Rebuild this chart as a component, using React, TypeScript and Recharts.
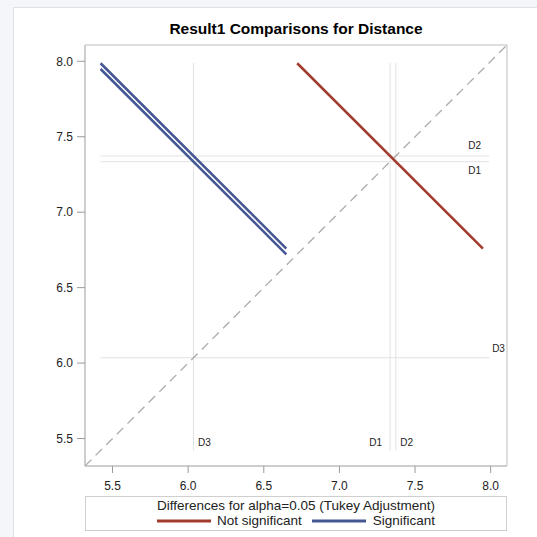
import React from "react";
import {
  ComposedChart,
  Line,
  XAxis,
  YAxis,
  ReferenceLine,
  ReferenceArea,
} from "recharts";

const FONT = '"Liberation Sans", Arial, sans-serif';
const RED = "#a23a2e";
const BLUE = "#445694";
const REF_GRAY = "#e2e2e2";
const FRAME = "#bdbdbd";
const TEXT = "#222";

// group means (x and y axes share the same levels)
const LEVELS = ["D1", "D2", "D3"];
const LEVEL_MEANS = [7.335, 7.373, 6.035];
// where each level's reference-line label sits
const H_LABEL_POS = ["below", "above", "end"];
const V_LABEL_POS = ["left", "right", "right"];

const AXIS_TICKS = [5.5, 6.0, 6.5, 7.0, 7.5, 8.0];
const AXIS_DOMAIN: [number, number] = [5.318, 8.108];
const REF_SPAN = [5.42, 7.99];

// difference segments, endpoints in data units
const NOT_SIG_D1_D2 = [
  { x: 6.721, y: 7.987 },
  { x: 7.949, y: 6.759 },
];
const SIG_D3_D2 = [
  { x: 5.421, y: 7.987 },
  { x: 6.649, y: 6.759 },
];
const SIG_D3_D1 = [
  { x: 5.421, y: 7.949 },
  { x: 6.649, y: 6.721 },
];

const fmt = (v: number) => v.toFixed(1);

function hLabel(text: string, pos: string) {
  return (props: any) => {
    const vb = props.viewBox;
    const right = vb.x + vb.width;
    let x = right - 8;
    let y = vb.y - 6.5;
    let anchor = "end";
    if (pos === "below") y = vb.y + 12.5;
    if (pos === "end") {
      x = right + 3;
      y = vb.y - 6;
      anchor = "start";
    }
    return (
      <text x={x} y={y} textAnchor={anchor} fontSize={10} fontFamily={FONT} fill={TEXT}>
        {text}
      </text>
    );
  };
}

function vLabel(text: string, pos: string) {
  return (props: any) => {
    const vb = props.viewBox;
    const bottom = vb.y + vb.height;
    const left = pos === "left";
    return (
      <text
        x={left ? vb.x - 8 : vb.x + 4.5}
        y={bottom - 4.5}
        textAnchor={left ? "end" : "start"}
        fontSize={10}
        fontFamily={FONT}
        fill={TEXT}
      >
        {text}
      </text>
    );
  };
}

function LegendSample({ color }: { color: string }) {
  return (
    <svg width={54} height={6} style={{ display: "block" }}>
      <line x1={0} y1={3} x2={54} y2={3} stroke={color} strokeWidth={3} />
    </svg>
  );
}

export default function App() {
  return (
    <div
      style={{
        position: "absolute",
        left: 0,
        top: 0,
        width: 537,
        height: 537,
        background: "#f4f6f9",
        overflow: "hidden",
        fontFamily: FONT,
      }}
    >
      <div
        style={{
          position: "absolute",
          left: 13,
          top: 7,
          width: 600,
          height: 600,
          background: "#fff",
          border: "1px solid #dde2e9",
        }}
      />
      <div
        style={{
          position: "absolute",
          left: 0,
          top: 20,
          width: 592,
          textAlign: "center",
          fontSize: 15.5,
          fontWeight: "bold",
          color: "#000",
          lineHeight: "18px",
        }}
      >
        Result1 Comparisons for Distance
      </div>

      <div style={{ position: "absolute", left: 0, top: 0 }}>
        <ComposedChart
          width={537}
          height={537}
          margin={{ top: 45, right: 30, left: 45, bottom: 41 }}
        >
          <XAxis
            dataKey="x"
            type="number"
            domain={AXIS_DOMAIN}
            ticks={AXIS_TICKS}
            tickFormatter={fmt}
            allowDataOverflow
            height={30}
            tickSize={7}
            tickMargin={8}
            axisLine={{ stroke: FRAME }}
            tickLine={{ stroke: "#999" }}
            tick={{ fill: TEXT, fontSize: 12, fontFamily: FONT }}
          />
          <YAxis
            dataKey="y"
            type="number"
            domain={AXIS_DOMAIN}
            ticks={AXIS_TICKS}
            tickFormatter={fmt}
            allowDataOverflow
            width={40}
            tickSize={8}
            tickMargin={4}
            axisLine={{ stroke: FRAME }}
            tickLine={{ stroke: "#999" }}
            tick={{ fill: TEXT, fontSize: 12, fontFamily: FONT }}
          />

          {/* reference lines at each level mean */}
          {LEVELS.map((name, i) => (
            <ReferenceLine
              key={`h-${name}`}
              segment={[
                { x: REF_SPAN[0], y: LEVEL_MEANS[i] },
                { x: REF_SPAN[1], y: LEVEL_MEANS[i] },
              ]}
              stroke={REF_GRAY}
              strokeWidth={1}
              label={hLabel(name, H_LABEL_POS[i])}
            />
          ))}
          {LEVELS.map((name, i) => (
            <ReferenceLine
              key={`v-${name}`}
              segment={[
                { x: LEVEL_MEANS[i], y: REF_SPAN[0] },
                { x: LEVEL_MEANS[i], y: REF_SPAN[1] },
              ]}
              stroke={REF_GRAY}
              strokeWidth={1}
              label={vLabel(name, V_LABEL_POS[i])}
            />
          ))}

          {/* line of equality */}
          <ReferenceLine
            segment={[
              { x: AXIS_DOMAIN[0], y: AXIS_DOMAIN[0] },
              { x: AXIS_DOMAIN[1], y: AXIS_DOMAIN[1] },
            ]}
            stroke="#ababab"
            strokeWidth={1.3}
            strokeDasharray="9 6"
          />

          <ReferenceArea
            x1={AXIS_DOMAIN[0]}
            x2={AXIS_DOMAIN[1]}
            y1={AXIS_DOMAIN[0]}
            y2={AXIS_DOMAIN[1]}
            fill="none"
            stroke={FRAME}
            strokeWidth={1}
          />

          <Line
            data={NOT_SIG_D1_D2}
            dataKey="y"
            stroke={RED}
            strokeWidth={2.5}
            dot={false}
            isAnimationActive={false}
          />
          <Line
            data={SIG_D3_D2}
            dataKey="y"
            stroke={BLUE}
            strokeWidth={2.5}
            dot={false}
            isAnimationActive={false}
          />
          <Line
            data={SIG_D3_D1}
            dataKey="y"
            stroke={BLUE}
            strokeWidth={2.5}
            dot={false}
            isAnimationActive={false}
          />
        </ComposedChart>
      </div>

      {/* legend */}
      <div
        style={{
          position: "absolute",
          left: 85,
          top: 496,
          width: 420,
          height: 33,
          border: "1px solid #cfcfcf",
          background: "#fff",
          fontSize: 13.5,
          color: TEXT,
          textAlign: "center",
          lineHeight: "15px",
        }}
      >
        <div style={{ marginTop: 1 }}>
          Differences for alpha=0.05 (Tukey Adjustment)
        </div>
        <div
          style={{
            display: "flex",
            justifyContent: "center",
            alignItems: "center",
          }}
        >
          <LegendSample color={RED} />
          <span style={{ marginLeft: 6, marginRight: 10 }}>Not significant</span>
          <LegendSample color={BLUE} />
          <span style={{ marginLeft: 7 }}>Significant</span>
        </div>
      </div>
    </div>
  );
}
